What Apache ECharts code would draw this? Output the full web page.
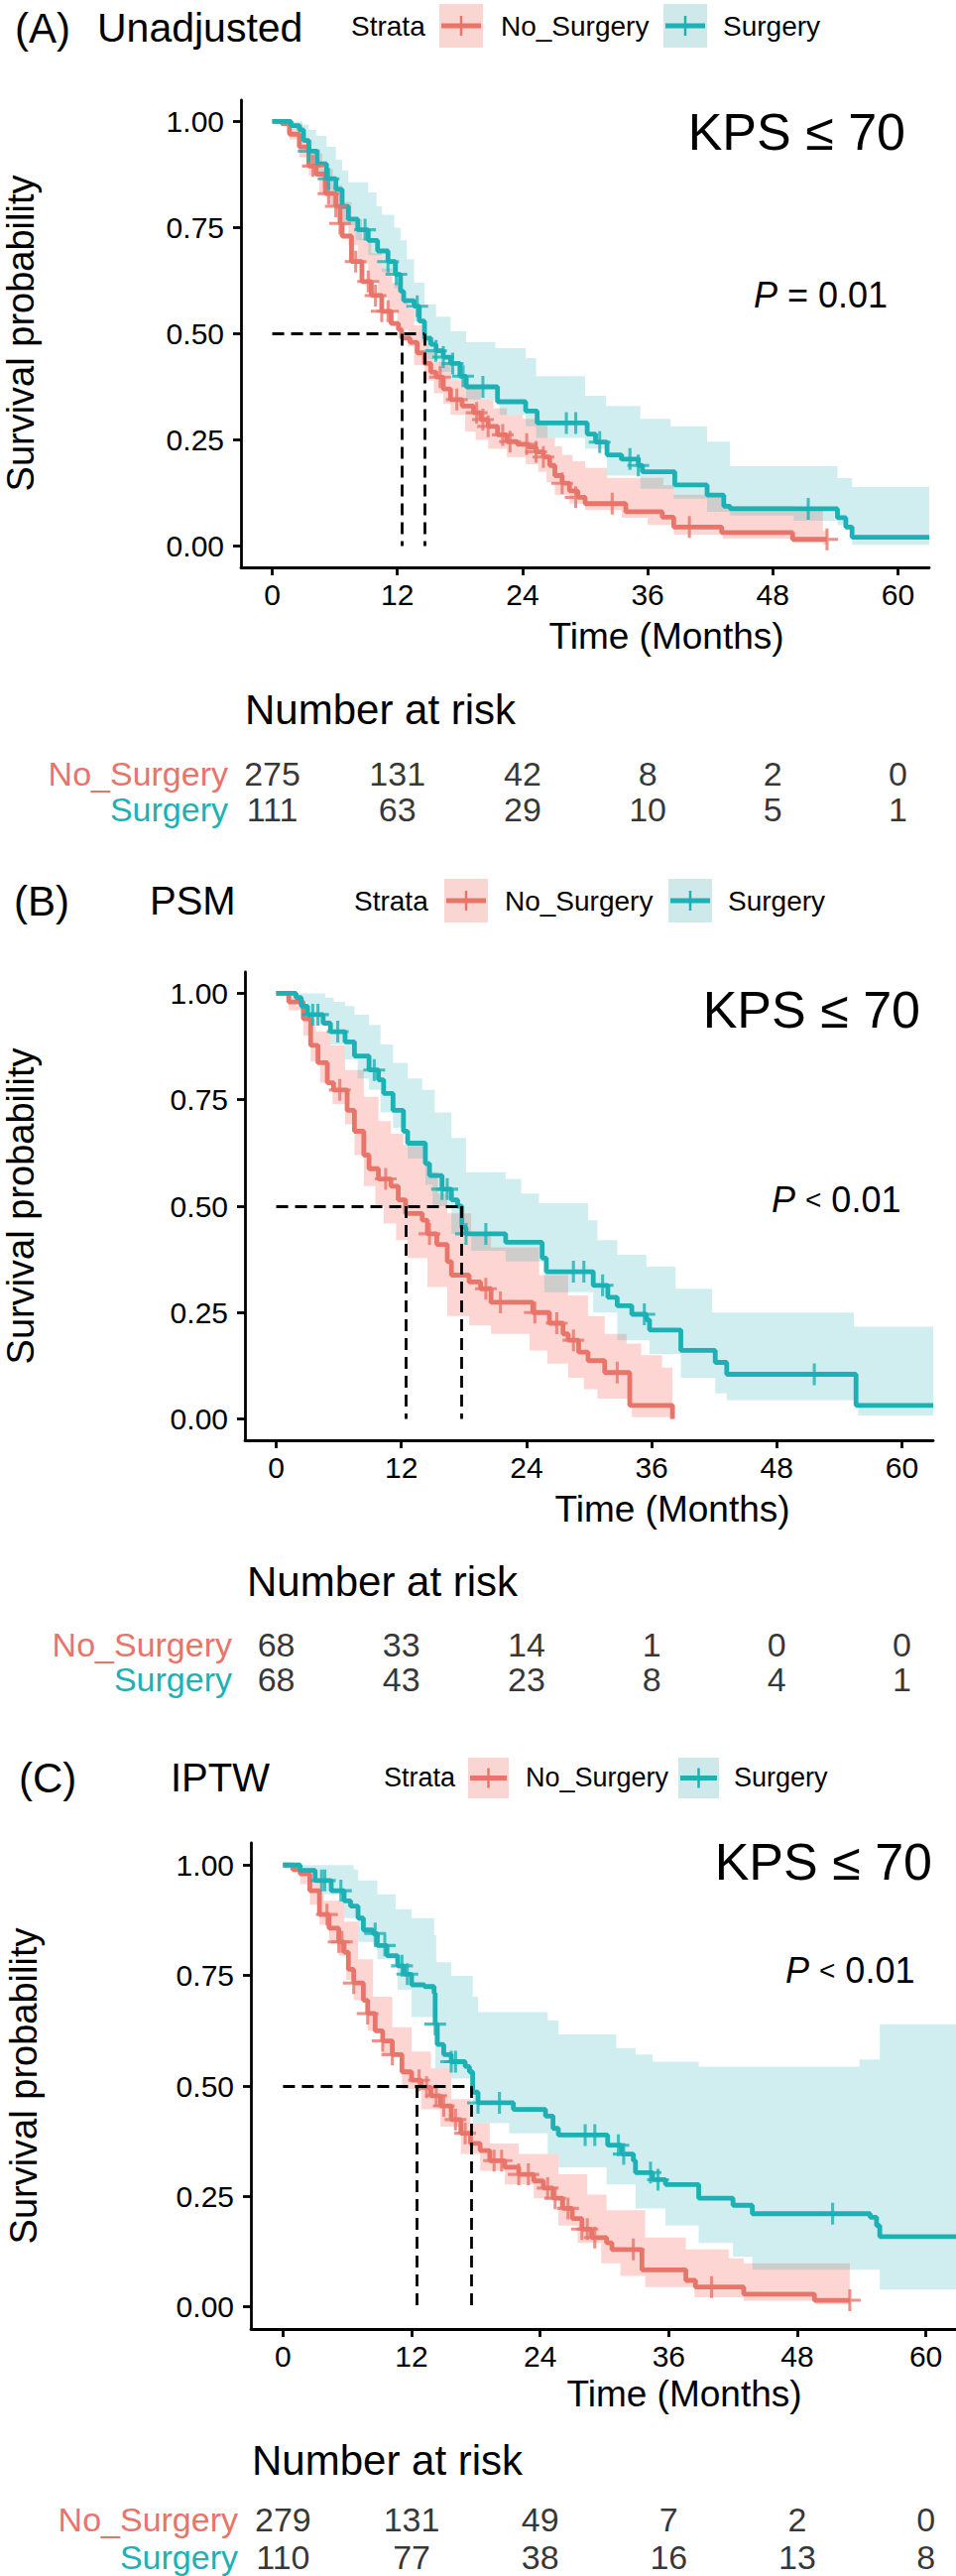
<!DOCTYPE html>
<html>
<head>
    <meta charset="utf-8" />
    <title>KPS survival</title>
    <script src="https://cdn.jsdelivr.net/npm/echarts@6.0.0/dist/echarts.min.js"></script>
    <style>
        html, body { margin: 0; padding: 0; background: #fff; }
    </style>
</head>
<body>
    <div id="main" style="width: 964px;height: 2597px;"></div>
    <script type="text/javascript">
        // shared axes
        var timeTicks = [0, 12, 24, 36, 48, 60];
        var survTicks = [0, 0.25, 0.5, 0.75, 1];
        var strata = ['No_Surgery', 'Surgery'];

        // (A) Unadjusted : [months, survival]
        var aNoSurg = [[0,1],[0.9,0.995],[1.65,0.97],[2.6,0.94],[3.5,0.895],[4.2,0.876],[5.1,0.83],[6.1,0.8],[6.5,0.76],[6.7,0.73],[7.6,0.67],[8.6,0.623],[9.5,0.59],[10.5,0.553],[11.4,0.524],[12.1,0.51],[12.4,0.49],[13.2,0.48],[13.9,0.455],[14.6,0.43],[15.2,0.41],[15.7,0.398],[16.4,0.37],[17.1,0.345],[18.2,0.33],[19.3,0.314],[20.0,0.298],[20.7,0.282],[21.6,0.262],[22.5,0.246],[23.5,0.24],[24.6,0.233],[25.3,0.222],[26.0,0.21],[26.6,0.19],[27.1,0.166],[27.8,0.148],[28.5,0.13],[29.3,0.115],[30.0,0.1],[33.9,0.081],[37.4,0.068],[38.5,0.045],[43.1,0.032],[49.9,0.016],[53.2,0.016]];
        var aSurg = [[0,1],[1.8,0.99],[2.6,0.98],[3.0,0.955],[3.5,0.93],[4.3,0.9],[5.2,0.865],[6.1,0.84],[6.7,0.8],[7.3,0.77],[8.2,0.745],[9.2,0.72],[10.1,0.695],[11.1,0.67],[11.8,0.64],[12.3,0.6],[12.6,0.578],[13.6,0.565],[14.1,0.53],[14.6,0.49],[15.2,0.475],[15.7,0.46],[16.4,0.445],[17.1,0.43],[18.0,0.4],[18.6,0.375],[21.6,0.34],[24.3,0.318],[25.4,0.29],[30.2,0.264],[31.0,0.245],[32.1,0.215],[33.5,0.205],[35.1,0.19],[35.5,0.175],[38.6,0.144],[41.7,0.12],[43.3,0.094],[43.9,0.088],[54.2,0.067],[55.0,0.045],[55.6,0.021],[63,0.021]];
        var aNoSurgCens = [[3.9,0.895],[5.4,0.83],[6.1,0.8],[6.5,0.76],[8.0,0.67],[9.2,0.623],[9.9,0.59],[10.5,0.553],[11.1,0.553],[16.1,0.398],[17.7,0.345],[19.6,0.314],[20.2,0.298],[20.7,0.282],[22.1,0.262],[22.8,0.246],[24.4,0.24],[25.3,0.222],[26.0,0.21],[27.8,0.148],[29.1,0.115],[32.6,0.1],[40.0,0.045],[53.2,0.016]];
        var aSurgCens = [[3.5,0.93],[5.4,0.865],[8.9,0.745],[11.1,0.67],[11.9,0.64],[13.9,0.565],[15.7,0.46],[16.4,0.445],[17.3,0.43],[18.3,0.4],[20.2,0.375],[28.2,0.29],[29.1,0.29],[31.4,0.245],[34.3,0.205],[35.1,0.19],[51.4,0.088]];
        var aNoSurgUp = [[0,1],[1.65,0.995],[2.9,0.958],[3.8,0.925],[4.8,0.888],[5.8,0.85],[6.7,0.81],[7.6,0.77],[8.6,0.724],[9.5,0.69],[10.5,0.654],[11.5,0.62],[12.4,0.584],[13.0,0.56],[13.6,0.52],[14.3,0.49],[15.0,0.46],[15.7,0.434],[17.1,0.39],[18.5,0.37],[20.0,0.345],[21.2,0.325],[22.5,0.309],[24.0,0.3],[25.7,0.291],[26.4,0.255],[27.1,0.235],[27.8,0.215],[28.8,0.2],[30.0,0.184],[32.1,0.161],[37.5,0.143],[38.5,0.121],[43.2,0.094],[50.0,0.085],[52.8,0.036],[53.2,0.036]];
        var aNoSurgLo = [[0,1],[0.9,0.99],[1.65,0.958],[2.6,0.915],[3.5,0.872],[4.5,0.83],[5.4,0.8],[6.3,0.755],[7.3,0.709],[8.2,0.665],[9.2,0.623],[10.1,0.585],[11.1,0.553],[12.0,0.51],[13.0,0.47],[13.6,0.426],[14.6,0.39],[15.5,0.36],[16.4,0.335],[17.1,0.309],[18.5,0.27],[19.5,0.25],[20.7,0.229],[22.5,0.21],[24.3,0.193],[25.5,0.175],[26.3,0.15],[27.1,0.121],[28.5,0.1],[30.0,0.085],[33.5,0.067],[36.0,0.05],[38.5,0.027],[43.2,0.018],[50.0,0.009],[52.8,0.003],[53.2,0.003]];
        var aSurgUp = [[0,1],[2.9,0.993],[3.5,0.98],[4.2,0.966],[5.2,0.94],[6.1,0.91],[6.7,0.885],[7.3,0.857],[9.2,0.833],[10.0,0.8],[10.5,0.78],[11.7,0.75],[12.3,0.72],[12.9,0.676],[13.6,0.62],[14.6,0.569],[15.7,0.54],[17.1,0.506],[18.6,0.48],[21.4,0.466],[24.3,0.443],[25.3,0.4],[30.0,0.354],[32.0,0.33],[35.3,0.3],[38.2,0.282],[41.7,0.246],[43.9,0.188],[54.2,0.16],[55.6,0.139],[63,0.139]];
        var aSurgLo = [[0,1],[1.8,0.99],[2.3,0.98],[2.9,0.95],[3.5,0.91],[4.2,0.875],[4.8,0.84],[5.7,0.8],[6.7,0.755],[8.0,0.72],[9.2,0.685],[10.5,0.645],[11.7,0.607],[12.6,0.57],[13.6,0.53],[14.3,0.48],[14.9,0.44],[16.0,0.41],[17.1,0.39],[18.6,0.345],[21.8,0.309],[24.3,0.282],[25.3,0.255],[30.0,0.229],[32.1,0.166],[35.3,0.135],[38.5,0.112],[41.7,0.081],[43.9,0.072],[50.0,0.06],[54.2,0.05],[55.6,0.003],[63,0.003]];
        var aMedian = [12.4, 14.6];
        var aRiskNo = [275, 131, 42, 8, 2, 0];
        var aRiskSurg = [111, 63, 29, 10, 5, 1];

        // (B) PSM
        var bNoSurg = [[0,1],[1.2,0.98],[2.6,0.94],[3.3,0.878],[4.0,0.837],[4.9,0.79],[5.5,0.773],[6.8,0.725],[7.5,0.676],[8.4,0.62],[8.9,0.588],[9.8,0.564],[11.0,0.547],[11.7,0.515],[12.4,0.483],[14.0,0.467],[14.5,0.435],[15.4,0.41],[16.4,0.37],[16.8,0.338],[18.5,0.322],[19.6,0.306],[20.6,0.274],[24.6,0.25],[26.2,0.225],[27.5,0.2],[28.0,0.185],[29.0,0.157],[29.9,0.137],[31.5,0.109],[33.9,0.032],[38.0,0]];
        var bSurg = [[0,1],[1.9,0.99],[2.4,0.97],[3.0,0.95],[4.5,0.93],[5.2,0.91],[6.6,0.886],[7.5,0.853],[8.9,0.82],[9.8,0.797],[10.3,0.765],[11.2,0.725],[12.2,0.676],[12.6,0.648],[14.3,0.6],[14.7,0.572],[15.9,0.54],[16.8,0.515],[17.4,0.5],[17.8,0.45],[18.2,0.435],[22.0,0.415],[25.5,0.378],[25.9,0.346],[30.4,0.314],[31.8,0.286],[32.7,0.266],[34.1,0.246],[35.5,0.233],[35.8,0.209],[38.8,0.161],[42.1,0.133],[43.2,0.105],[55.6,0.032],[63,0.032]];
        var bNoSurgCens = [[6.1,0.773],[10.5,0.564],[14.7,0.435],[20.1,0.306],[21.5,0.274],[24.8,0.25],[26.9,0.225],[28.5,0.185],[32.7,0.109]];
        var bSurgCens = [[3.5,0.95],[4.0,0.95],[5.9,0.91],[9.4,0.82],[15.9,0.54],[16.4,0.54],[18.2,0.435],[20.1,0.435],[28.5,0.346],[29.5,0.346],[31.3,0.314],[35.3,0.246],[51.6,0.105]];
        var bNoSurgUp = [[0,1],[1.9,0.97],[3.0,0.94],[3.8,0.91],[5.2,0.878],[6.6,0.82],[8.4,0.757],[9.8,0.7],[11.0,0.67],[12.2,0.644],[14.5,0.58],[15.5,0.53],[16.4,0.483],[18.7,0.435],[20.6,0.403],[25.2,0.338],[28.0,0.29],[29.9,0.242],[31.5,0.2],[33.6,0.177],[35.0,0.15],[37.0,0.121],[38.0,0.121]];
        var bNoSurgLo = [[0,1],[1.2,0.96],[2.6,0.9],[3.3,0.84],[4.2,0.79],[5.4,0.74],[6.6,0.692],[7.5,0.62],[8.4,0.547],[9.5,0.5],[10.3,0.459],[11.5,0.42],[12.6,0.378],[14.5,0.31],[16.4,0.242],[18.5,0.22],[20.6,0.2],[24.3,0.161],[26.0,0.13],[28.0,0.097],[29.5,0.07],[30.8,0.048],[34.1,0.004],[38.0,0.004]];
        var bSurgUp = [[0,1],[4.7,0.99],[5.5,0.98],[6.6,0.97],[7.5,0.95],[8.9,0.926],[10.0,0.88],[11.2,0.837],[12.6,0.8],[14.0,0.773],[15.2,0.72],[16.8,0.66],[18.2,0.58],[22.0,0.564],[23.5,0.53],[25.2,0.507],[29.9,0.467],[30.8,0.42],[32.7,0.386],[35.5,0.358],[38.3,0.306],[41.8,0.25],[55.4,0.217],[63,0.217]];
        var bSurgLo = [[0,1],[1.9,0.98],[3.0,0.95],[3.8,0.926],[5.2,0.88],[6.6,0.845],[7.8,0.8],[8.9,0.773],[10.0,0.72],[11.2,0.684],[12.6,0.612],[14.3,0.55],[15.0,0.5],[16.8,0.435],[18.7,0.395],[22.0,0.37],[25.7,0.298],[30.4,0.25],[32.7,0.185],[35.8,0.153],[38.8,0.097],[42.1,0.06],[43.2,0.044],[55.8,0.008],[63,0.008]];
        var bMedian = [12.4, 17.8];
        var bRiskNo = [68, 33, 14, 1, 0, 0];
        var bRiskSurg = [68, 43, 23, 8, 4, 1];

        // (C) IPTW
        var cNoSurg = [[0,1],[0.9,0.99],[1.6,0.98],[2.5,0.942],[3.4,0.888],[4.3,0.857],[5.2,0.826],[5.7,0.803],[6.1,0.764],[6.6,0.733],[7.5,0.694],[7.9,0.664],[8.6,0.625],[9.3,0.602],[10.2,0.571],[11.1,0.532],[12.0,0.513],[12.9,0.497],[13.8,0.478],[14.7,0.455],[15.7,0.424],[16.6,0.393],[17.5,0.37],[18.4,0.354],[19.3,0.331],[20.7,0.316],[22.0,0.3],[23.4,0.285],[24.3,0.269],[25.2,0.246],[26.1,0.223],[27.0,0.2],[27.9,0.176],[28.8,0.157],[30.2,0.145],[30.7,0.13],[33.5,0.084],[37.6,0.06],[38.5,0.045],[43.0,0.029],[49.6,0.015],[52.9,0.015]];
        var cSurg = [[0,1],[1.6,0.988],[3.0,0.965],[4.5,0.942],[5.7,0.919],[6.3,0.907],[7.0,0.88],[7.5,0.853],[8.4,0.845],[8.8,0.818],[9.7,0.795],[10.7,0.772],[11.3,0.753],[12.0,0.729],[13.2,0.725],[14.1,0.71],[14.2,0.64],[14.4,0.594],[15.0,0.571],[15.7,0.555],[17.0,0.544],[17.4,0.532],[17.7,0.486],[18.2,0.462],[21.5,0.447],[24.5,0.432],[25.2,0.404],[25.7,0.389],[30.3,0.366],[31.6,0.346],[32.7,0.331],[32.9,0.304],[34.5,0.288],[35.7,0.277],[38.8,0.246],[42.0,0.23],[43.8,0.211],[54.8,0.203],[55.4,0.184],[55.7,0.159],[63,0.159]];
        var cNoSurgCens = [[4.1,0.888],[5.2,0.826],[5.5,0.826],[6.6,0.733],[7.9,0.664],[9.3,0.602],[10.2,0.571],[12.7,0.513],[13.4,0.497],[14.3,0.478],[15.0,0.455],[16.1,0.424],[17.0,0.393],[19.7,0.331],[20.4,0.331],[22.0,0.3],[22.9,0.3],[24.7,0.269],[25.4,0.246],[26.6,0.223],[27.9,0.176],[28.4,0.176],[29.1,0.157],[32.7,0.13],[40.0,0.045],[52.9,0.015]];
        var cSurgCens = [[3.6,0.965],[3.9,0.965],[5.4,0.942],[8.6,0.845],[9.5,0.818],[11.1,0.772],[11.6,0.753],[14.2,0.64],[15.7,0.555],[16.1,0.555],[18.2,0.462],[20.2,0.462],[28.2,0.389],[29.1,0.389],[31.3,0.366],[31.8,0.346],[34.3,0.304],[35.0,0.288],[51.3,0.211]];
        var cNoSurgUp = [[0,1],[1.6,0.985],[2.5,0.965],[3.8,0.919],[5.7,0.872],[7.0,0.787],[8.4,0.702],[10.2,0.633],[12.0,0.578],[13.8,0.54],[15.7,0.47],[17.5,0.416],[19.3,0.37],[22.0,0.346],[25.7,0.3],[28.4,0.254],[30.2,0.219],[33.8,0.157],[37.6,0.13],[41.6,0.11],[43.0,0.099],[52.9,0.095]];
        var cNoSurgLo = [[0,1],[0.9,0.985],[1.6,0.957],[2.5,0.91],[3.4,0.865],[4.3,0.83],[5.2,0.795],[5.9,0.74],[6.6,0.694],[7.9,0.625],[9.3,0.571],[11.1,0.493],[12.9,0.447],[14.7,0.408],[16.6,0.346],[18.4,0.308],[20.7,0.277],[23.4,0.246],[25.7,0.184],[27.5,0.145],[29.7,0.099],[31.5,0.07],[33.8,0.045],[38.4,0.022],[43.0,0.014],[49.7,0.006],[52.9,0.002]];
        var cSurgUp = [[0,1],[6.6,0.99],[7.0,0.965],[8.8,0.934],[10.5,0.9],[12.0,0.88],[14.1,0.841],[14.3,0.78],[15.7,0.749],[17.7,0.702],[18.2,0.667],[24.7,0.648],[25.7,0.617],[31.1,0.586],[32.9,0.571],[34.5,0.555],[38.8,0.544],[53.8,0.56],[55.7,0.64],[63,0.64]];
        var cSurgLo = [[0,1],[1.6,0.99],[2.5,0.96],[3.8,0.934],[5.7,0.88],[7.0,0.826],[8.8,0.787],[10.7,0.718],[12.0,0.656],[14.1,0.594],[14.2,0.54],[15.7,0.517],[17.5,0.493],[17.7,0.416],[21.1,0.393],[24.7,0.346],[25.7,0.316],[30.2,0.277],[32.9,0.223],[35.7,0.184],[38.8,0.145],[42.0,0.114],[43.8,0.084],[55.7,0.039],[63,0.039]];
        var cMedian = [12.5, 17.6];
        var cRiskNo = [279, 131, 49, 7, 2, 0];
        var cRiskSurg = [110, 77, 38, 16, 13, 8];

        var FONT = '"Liberation Sans", Arial, sans-serif';
        var RED = '#E8746A';
        var TEAL = '#1DB0B5';
        var RED_BAND = 'rgba(248,118,109,0.3)';
        var TEAL_BAND = 'rgba(20,170,176,0.2)';
        var RED_KEY = '#F9D6D1';
        var TEAL_KEY = '#CFE8EA';
        var PLUS = 'path://M8.6,0H11.4V8.6H20V11.4H11.4V20H8.6V11.4H0V8.6H8.6Z';

        var panels = [
            { grid: { left: 243, top: 101, width: 694, height: 471 }, risk: { left: 243, top: 762, width: 694, height: 72 },
              no: aNoSurg, su: aSurg, noC: aNoSurgCens, suC: aSurgCens, noUp: aNoSurgUp, noLo: aNoSurgLo, suUp: aSurgUp, suLo: aSurgLo,
              med: aMedian, riskNo: aRiskNo, riskSu: aRiskSurg },
            { grid: { left: 247, top: 980, width: 694, height: 472 }, risk: { left: 247, top: 1640, width: 694, height: 70 },
              no: bNoSurg, su: bSurg, noC: bNoSurgCens, suC: bSurgCens, noUp: bNoSurgUp, noLo: bNoSurgLo, suUp: bSurgUp, suLo: bSurgLo,
              med: bMedian, riskNo: bRiskNo, riskSu: bRiskSurg },
            { grid: { left: 253, top: 1858, width: 713, height: 490 }, risk: { left: 253, top: 2521, width: 713, height: 76 },
              no: cNoSurg, su: cSurg, noC: cNoSurgCens, suC: cSurgCens, noUp: cNoSurgUp, noLo: cNoSurgLo, suUp: cSurgUp, suLo: cSurgLo,
              med: cMedian, riskNo: cRiskNo, riskSu: cRiskSurg }
        ];

        // turn a KM step list into polyline corners
        function stepPts(arr) {
            var out = [];
            for (var i = 0; i < arr.length; i++) {
                if (i > 0) out.push([arr[i][0], arr[i - 1][1]]);
                out.push(arr[i]);
            }
            return out;
        }

        function bandSeries(i, up, lo, color) {
            return {
                type: 'custom', xAxisIndex: i, yAxisIndex: i, silent: true, z: 1,
                data: [[0, 0]],
                renderItem: function (params, api) {
                    var pts = stepPts(up).concat(stepPts(lo).reverse()).map(function (p) { return api.coord(p); });
                    return { type: 'polygon', shape: { points: pts }, style: { fill: color } };
                }
            };
        }

        var grids = [], xAxes = [], yAxes = [], series = [];
        var axisLineStyle = { color: '#000', width: 2.8 };

        panels.forEach(function (p, i) {
            grids.push(Object.assign({ outerBoundsMode: 'none' }, p.grid));
            xAxes.push({
                gridIndex: i, type: 'value', min: -3, max: 63,
                axisLine: { show: true, onZero: false, lineStyle: axisLineStyle },
                axisTick: { show: true, length: 8, lineStyle: axisLineStyle, customValues: timeTicks },
                axisLabel: { customValues: timeTicks, fontSize: 30, color: '#000', margin: 12, fontFamily: FONT },
                splitLine: { show: false }
            });
            yAxes.push({
                gridIndex: i, type: 'value', min: -0.05, max: 1.05,
                axisLine: { show: true, onZero: false, lineStyle: axisLineStyle },
                axisTick: { show: true, length: 8, lineStyle: axisLineStyle, customValues: survTicks },
                axisLabel: { customValues: survTicks, fontSize: 30, color: '#000', margin: 17, fontFamily: FONT,
                    formatter: function (v) { return v.toFixed(2); } },
                splitLine: { show: false }
            });

            series.push(bandSeries(i, p.noUp, p.noLo, RED_BAND));
            series.push(bandSeries(i, p.suUp, p.suLo, TEAL_BAND));

            var m1 = p.med[0], m2 = p.med[1];
            series.push({
                name: 'No_Surgery', type: 'line', xAxisIndex: i, yAxisIndex: i, step: 'end',
                data: p.no, showSymbol: false, symbol: 'none', z: 3,
                lineStyle: { color: RED, width: 4.8 },
                markLine: {
                    silent: true, symbol: 'none', label: { show: false },
                    lineStyle: { color: '#000', type: [12, 7], width: 2.8 },
                    data: [
                        [{ coord: [0, 0.5] }, { coord: [m2, 0.5] }],
                        [{ coord: [m1, 0.5] }, { coord: [m1, 0] }],
                        [{ coord: [m2, 0.5] }, { coord: [m2, 0] }]
                    ]
                }
            });
            series.push({
                name: 'Surgery', type: 'line', xAxisIndex: i, yAxisIndex: i, step: 'end',
                data: p.su, showSymbol: false, symbol: 'none', z: 3,
                lineStyle: { color: TEAL, width: 4.8 }
            });
            series.push({
                type: 'scatter', xAxisIndex: i, yAxisIndex: i, symbol: PLUS, symbolSize: [22, 22], z: 4,
                itemStyle: { color: RED }, data: p.noC
            });
            series.push({
                type: 'scatter', xAxisIndex: i, yAxisIndex: i, symbol: PLUS, symbolSize: [22, 22], z: 4,
                itemStyle: { color: TEAL }, data: p.suC
            });
        });

        // risk tables on their own grids, sharing the time scale
        panels.forEach(function (p, i) {
            var k = 3 + i;
            grids.push(Object.assign({ outerBoundsMode: 'none' }, p.risk));
            xAxes.push({ gridIndex: k, type: 'value', min: -3, max: 63, show: false });
            yAxes.push({
                gridIndex: k, type: 'category', data: strata, inverse: true,
                axisLine: { show: false }, axisTick: { show: false }, splitLine: { show: false },
                axisLabel: {
                    margin: 13, fontFamily: FONT,
                    formatter: function (v) { return v === 'No_Surgery' ? '{r|' + v + '}' : '{t|' + v + '}'; },
                    rich: {
                        r: { color: RED, fontSize: 34, fontFamily: FONT },
                        t: { color: TEAL, fontSize: 34, fontFamily: FONT }
                    }
                }
            });
            var rows = [];
            timeTicks.forEach(function (t, j) {
                rows.push([t, strata[0], p.riskNo[j]]);
                rows.push([t, strata[1], p.riskSu[j]]);
            });
            series.push({
                type: 'scatter', xAxisIndex: k, yAxisIndex: k, symbolSize: 1,
                itemStyle: { color: 'rgba(0,0,0,0)' },
                data: rows,
                label: {
                    show: true, position: 'inside', color: '#000', fontSize: 34, fontFamily: FONT,
                    formatter: function (q) { return String(q.value[2]); }
                }
            });
        });

        // text and legend pieces
        function txt(x, y, s, size, align, extra) {
            var o = { type: 'text', x: x, y: y, z: 10,
                style: { text: s, fontSize: size, fontFamily: FONT, fill: '#000', align: align || 'left', verticalAlign: 'middle' } };
            if (extra) { for (var key in extra) o.style[key] = extra[key]; }
            return o;
        }
        function legendKey(x, y, size, fill, color) {
            var cy = y + size / 2, cx = x + size / 2;
            return [
                { type: 'rect', z: 10, shape: { x: x, y: y, width: size, height: size }, style: { fill: fill } },
                { type: 'line', z: 11, shape: { x1: x + 2, y1: cy, x2: x + size - 2, y2: cy }, style: { stroke: color, lineWidth: 5 } },
                { type: 'line', z: 11, shape: { x1: cx, y1: cy - 10, x2: cx, y2: cy + 10 }, style: { stroke: color, lineWidth: 2.5 } }
            ];
        }
        var pRich = { i: { fontStyle: 'italic', fontSize: 36, fontFamily: FONT }, s: { fontSize: 28, fontFamily: FONT } };
        var yLab = function (x, y) {
            var o = txt(x, y, 'Survival probability', 38, 'center');
            o.rotation = Math.PI / 2;
            return o;
        };

        var graphic = [
            // A
            txt(15, 28, '(A)', 42), txt(98, 28, 'Unadjusted', 41),
            txt(354, 26, 'Strata', 28), txt(505, 26, 'No_Surgery', 28), txt(729, 26, 'Surgery', 28),
            txt(913, 133, 'KPS \u2264 70', 52, 'right'),
            txt(760, 297, '{i|P} = 0.01', 36, 'left', { rich: pRich }),
            yLab(21, 336),
            txt(672, 641, 'Time (Months)', 37, 'center'),
            txt(247, 715, 'Number at risk', 42),
            // B
            txt(14, 908, '(B)', 42), txt(151, 908, 'PSM', 40),
            txt(357, 908, 'Strata', 28), txt(509, 908, 'No_Surgery', 28), txt(734, 908, 'Surgery', 28),
            txt(928, 1018, 'KPS \u2264 70', 52, 'right'),
            txt(778, 1209, '{i|P} {s|<} 0.01', 36, 'left', { rich: pRich }),
            yLab(21, 1216),
            txt(678, 1521, 'Time (Months)', 37, 'center'),
            txt(249, 1594, 'Number at risk', 42),
            // C
            txt(19, 1792, '(C)', 42), txt(172, 1792, 'IPTW', 40),
            txt(387, 1792, 'Strata', 27), txt(530, 1792, 'No_Surgery', 27), txt(740, 1792, 'Surgery', 27),
            txt(940, 1877, 'KPS \u2264 70', 52, 'right'),
            txt(792, 1986, '{i|P} {s|<} 0.01', 36, 'left', { rich: pRich }),
            yLab(24, 2103),
            txt(690, 2413, 'Time (Months)', 37, 'center'),
            txt(254, 2480, 'Number at risk', 42)
        ]
            .concat(legendKey(443, 4, 44, RED_KEY, RED)).concat(legendKey(669, 4, 44, TEAL_KEY, TEAL))
            .concat(legendKey(448, 886, 44, RED_KEY, RED)).concat(legendKey(674, 886, 44, TEAL_KEY, TEAL))
            .concat(legendKey(472, 1772, 41, RED_KEY, RED)).concat(legendKey(684, 1772, 41, TEAL_KEY, TEAL));

        var myChart = echarts.init(document.getElementById('main'), null, { renderer: 'svg' });
        myChart.setOption({
            animation: false,
            backgroundColor: '#fff',
            textStyle: { fontFamily: FONT },
            grid: grids,
            xAxis: xAxes,
            yAxis: yAxes,
            series: series,
            graphic: graphic
        });
    </script>
</body>
</html>
